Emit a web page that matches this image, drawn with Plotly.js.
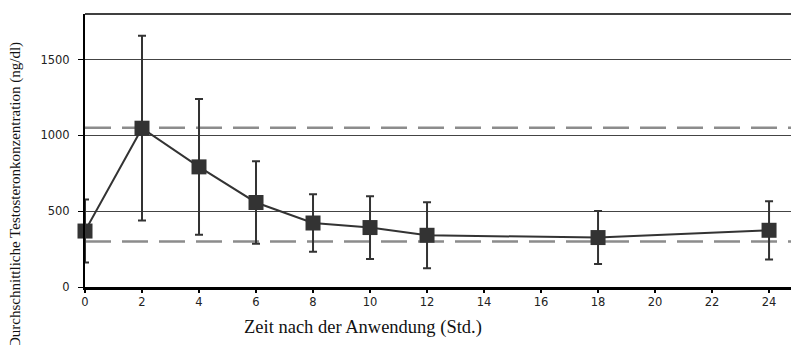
<!DOCTYPE html>
<html><head><meta charset="utf-8">
<script src="https://cdn.plot.ly/plotly-3.0.1.min.js"></script>
<style>html,body{margin:0;padding:0;background:#fff}</style>
</head><body>
<div id="chart" style="width:791px;height:345px"></div>
<script>
const hours = [0, 2, 4, 6, 8, 10, 12, 18, 24];
const meanConc = [369, 1047, 792, 557, 422, 392, 341, 326, 374];
const sdConc = [208, 609, 448, 272, 189, 207, 218, 175, 192];
const refLevels = [1050, 300];
const xTicks = [0, 2, 4, 6, 8, 10, 12, 14, 16, 18, 20, 22, 24];
const yTicks = [0, 500, 1000, 1500];

const traces = [{
  x: hours, y: meanConc, type: 'scatter', mode: 'lines+markers',
  line: {color: '#333', width: 2},
  marker: {symbol: 'square', size: 15, color: '#333'},
  error_y: {type: 'data', array: sdConc, visible: true, color: '#333', thickness: 2, width: 4},
  cliponaxis: false, showlegend: false, hoverinfo: 'skip'
}];

const shapes = refLevels.map(v => ({
  type: 'line', xref: 'paper', x0: 0, x1: 1, yref: 'y', y0: v, y1: v,
  line: {color: '#8c8c8c', width: 2.5, dash: '26px,11px'}, layer: 'below'
}));
shapes.push({type: 'line', xref: 'paper', x0: 0, x1: 1, yref: 'paper', y0: 1, y1: 1,
  line: {color: '#000', width: 1.5}});

const layout = {
  width: 791, height: 345,
  margin: {l: 85, r: 0, t: 14, b: 58},
  paper_bgcolor: '#fff', plot_bgcolor: '#fff',
  xaxis: {
    range: [0, 24.77], tickvals: xTicks, ticktext: xTicks.map(String),
    showgrid: false, zeroline: false, showline: true, linecolor: '#000', linewidth: 2.5,
    ticks: 'outside', ticklen: 3, tickcolor: '#000', tickwidth: 1.5,
    tickfont: {family: 'DejaVu Sans, sans-serif', size: 11.5, color: '#222'}
  },
  yaxis: {
    range: [0, 1800], tickvals: yTicks, ticktext: yTicks.map(String),
    showgrid: true, gridcolor: '#444', gridwidth: 1, zeroline: false,
    showline: true, linecolor: '#000', linewidth: 2,
    ticks: 'outside', ticklen: 5, tickcolor: '#000', tickwidth: 1,
    tickfont: {family: 'DejaVu Sans, sans-serif', size: 11.5, color: '#222'},
    ticklabelstandoff: 6
  },
  shapes: shapes,
  annotations: [
    {text: 'Zeit nach der Anwendung (Std.)', xref: 'paper', yref: 'paper',
     x: (363 - 85) / 706, y: -40 / 273, xanchor: 'center', yanchor: 'middle', showarrow: false,
     font: {family: 'Liberation Serif, Times New Roman, serif', size: 18.5, color: '#111'}},
    {text: 'Durchschnittliche Testosteronkonzentration (ng/dl)', xref: 'paper', yref: 'paper',
     x: (15 - 85) / 706, y: (287 - 195) / 273, xanchor: 'center', yanchor: 'middle', showarrow: false,
     textangle: -90,
     font: {family: 'Liberation Serif, Times New Roman, serif', size: 15, color: '#111'}}
  ]
};
Plotly.newPlot('chart', traces, layout, {staticPlot: true, displayModeBar: false});
</script>
</body></html>
